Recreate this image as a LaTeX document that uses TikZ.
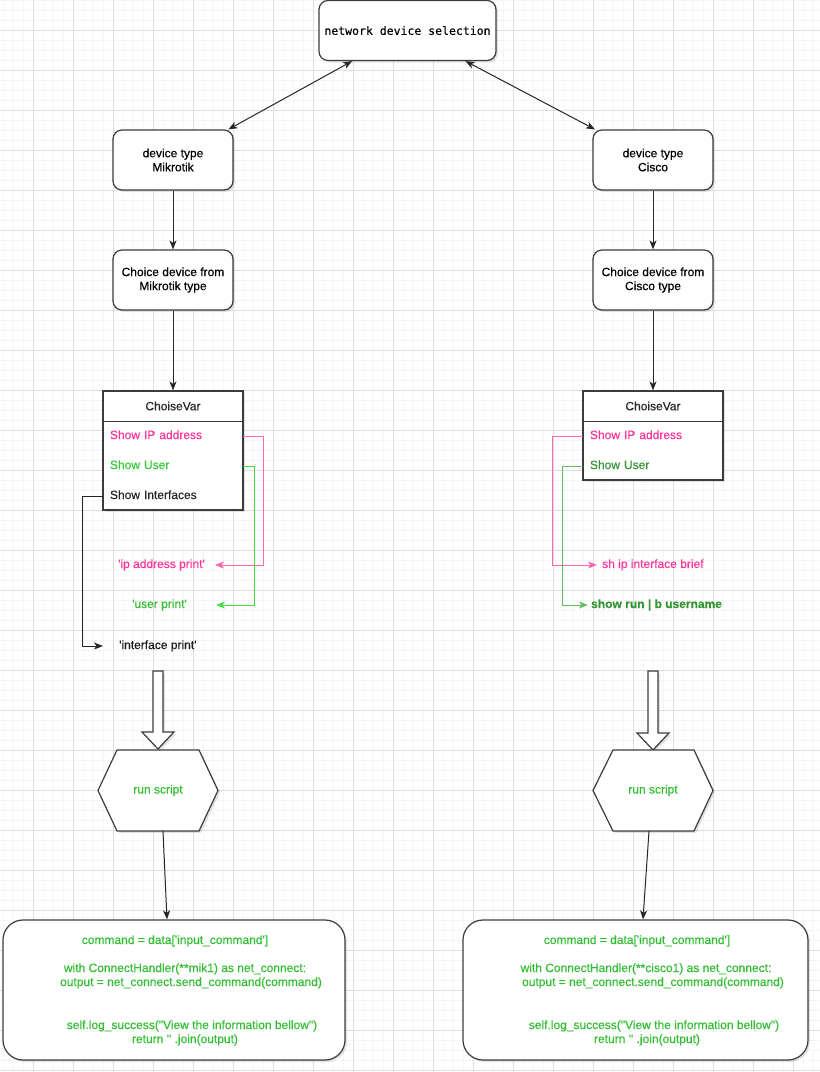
\documentclass[tikz,border=0pt]{standalone}
\usepackage{fontspec}
\setmainfont{Liberation Sans}[Ligatures=TeXOff, FakeBold=0.35]
\newfontfamily\monof{DejaVu Sans Mono}[FakeBold=0.3]
\usetikzlibrary{shadows,arrows.meta}
\newcommand\dfont{\fontsize{12}{14}\selectfont}
\definecolor{pk}{RGB}{255,51,153}
\definecolor{pkl}{RGB}{255,102,178}
\definecolor{gL}{RGB}{51,204,51}
\definecolor{glL}{RGB}{70,222,70}
\definecolor{gT}{RGB}{50,190,50}
\definecolor{gD}{RGB}{51,150,51}
\definecolor{glR}{RGB}{100,190,100}
\definecolor{strk}{RGB}{60,60,60}
\begin{document}
\begin{tikzpicture}[x=1pt,y=-1pt,
  shd/.style={drop shadow={opacity=0.22,shadow xshift=2pt,shadow yshift=-2pt}},
  box/.style={draw=strk, line width=1.2pt, fill=white, rounded corners=9pt,
    minimum width=120pt, minimum height=60pt, align=center, font=\dfont, shd},
  cvbox/.style={draw=strk, line width=1.2pt, fill=white, minimum width=140pt, shd},
  cvhead/.style={minimum width=140pt, minimum height=30pt, inner sep=0pt, font=\dfont, text=black!85},
  row/.style={text width=126pt, inner xsep=7pt, inner ysep=0pt, minimum height=30pt,
    align=left, font=\dfont, text height=8.6pt, text depth=2.6pt},
  txt/.style={inner ysep=0pt, font=\dfont, text height=8.6pt, text depth=2.6pt},
  code/.style={txt, inner xsep=0pt, text=gT},
  con/.style={draw=black!85, line width=1pt},
  arr/.style={-{Stealth[length=9pt,width=7pt,inset=2.5pt]}},
  darr/.style={{Stealth[length=9pt,width=7pt,inset=2.5pt]}-{Stealth[length=9pt,width=7pt,inset=2.5pt]}},
  shapeline/.style={draw=strk, line width=1.2pt, fill=white, shd},
  bigbox/.style={draw=strk, line width=1.2pt, fill=white, rounded corners=20pt, minimum height=140pt, shd}
]
\useasboundingbox (0,0) rectangle (820,1072);
\fill[white] (0,0) rectangle (820,1072);
% grid
\foreach \x in {3,13,...,813} \draw[black!4, line width=0.8pt] (\x,0) -- (\x,1072);
\foreach \y in {0,10,...,1070} \draw[black!4, line width=0.8pt] (0,\y) -- (820,\y);
\foreach \x in {33,73,...,793} \draw[black!13, line width=0.8pt] (\x,0) -- (\x,1072);
\foreach \y in {30,70,...,1070} \draw[black!13, line width=0.8pt] (0,\y) -- (820,\y);

% top node
\node[box, minimum width=177pt, font=\monof\fontsize{11.5}{14}\selectfont] (net) at (407.5,30.5) {network device selection};

% device type boxes
\node[box] (mik) at (173,160) {device type\\Mikrotik};
\node[box] (cis) at (653,160) {device type\\Cisco};
\node[box] (chm) at (173,280) {Choice device from\\Mikrotik type};
\node[box] (chc) at (653,280) {Choice device from\\Cisco type};

% ChoiseVar left
\node[cvbox, minimum height=119pt] (cvL) at (173,450.5) {};
\node[cvhead] (cvLh) at (173,406) {ChoiseVar};
\draw[strk, line width=1.2pt] (cvLh.south west) -- (cvLh.south east);
\node[row, text=pk] (lip) at (173,436) {Show IP address};
\node[row, text=gL] (lus) at (173,466) {Show User};
\node[row, text=black!85] (lin) at (173,496) {Show Interfaces};

% ChoiseVar right
\node[cvbox, minimum height=89pt] (cvR) at (653,435.5) {};
\node[cvhead] (cvRh) at (653,406) {ChoiseVar};
\draw[strk, line width=1.2pt] (cvRh.south west) -- (cvRh.south east);
\node[row, text=pk] (rip) at (653,436) {Show IP address};
\node[row, text=gD] (rus) at (653,466) {Show User};

% print labels
\node[txt, text=pk, anchor=east, inner xsep=10pt] (ipp) at (215,565) {'ip address print'};
\node[txt, text=gT, anchor=east, inner xsep=29pt] (upr) at (216,605) {'user print'};
\node[txt, text=black!90, anchor=west, inner xsep=16pt] (ipr) at (103,646) {'interface print'};
\node[txt, text=pk, anchor=west, inner xsep=5pt] (shp) at (597,565) {sh ip interface brief};
\node[txt, text=gD, anchor=west, inner xsep=3pt, font=\dfont\bfseries] (srp) at (588,605) {show run | b username};

% connectors
\draw[con, darr] (net) -- (mik);
\draw[con, darr] (net) -- (cis);
\draw[con, arr] (mik) -- (chm);
\draw[con, arr] (cis) -- (chc);
\draw[con, arr] (chm) -- (cvL);
\draw[con, arr] (chc) -- (cvR);
\draw[draw=pkl, line width=1pt, arr] (lip.east) -- ++(20,0) |- (ipp.east);
\draw[draw=glL, line width=1pt, arr] (lus.east) -- ++(11,0) |- (upr.east);
\draw[con, arr] (lin.west) -- ++(-20,0) |- (ipr.west);
\draw[draw=pkl, line width=1pt, arr] (rip.west) -- ++(-30,0) |- (shp.west);
\draw[draw=glR, line width=1pt, arr] (rus.west) -- ++(-20,0) |- (srp.west);

% block arrows
\draw[shapeline] (153,671) -- (163,671) -- (163,732) -- (174,732) -- (158,749) -- (142,732) -- (153,732) -- cycle;
\draw[shapeline] (648,671) -- (658,671) -- (658,733) -- (669,733) -- (653,750) -- (637,733) -- (648,733) -- cycle;

% hexagons
\draw[shapeline] (98,790.5) -- (117,750) -- (199,750) -- (218,790.5) -- (199,831) -- (117,831) -- cycle;
\node[txt, text=gT, minimum width=120pt, minimum height=81pt] (hexL) at (158,790.5) {run script};
\draw[shapeline] (593,790.5) -- (613,750) -- (694,750) -- (713,790.5) -- (694,831) -- (613,831) -- cycle;
\node[txt, text=gT, minimum width=120pt, minimum height=81pt] (hexR) at (653,790.5) {run script};

% big boxes
\node[bigbox, minimum width=342pt] (boxL) at (174,990) {};
\node[bigbox, minimum width=345pt] (boxR) at (635.5,990) {};
\draw[con, arr] ([xshift=5pt]hexL.south) -- ([xshift=-7pt]boxL.north);
\draw[con, arr] ([xshift=-4pt]hexR.south) -- ([xshift=7.5pt]boxR.north);

% code text left
\node[code] (l1) at (175,941) {command = data['input\_command']};
\node[code] (l2) at (185,969) {with ConnectHandler(**mik1) as net\_connect:};
\node[code] (l3) at (191,983) {output = net\_connect.send\_command(command)};
\node[code] (l4) at (192,1026) {self.log\_success("View the information bellow")};
\node[code] (l5) at (185,1040) {return '' .join(output)};
% code text right
\node[code] (r1) at (637,941) {command = data['input\_command']};
\node[code] (r2) at (646,969) {with ConnectHandler(**cisco1) as net\_connect:};
\node[code] (r3) at (653,983) {output = net\_connect.send\_command(command)};
\node[code] (r4) at (654,1026) {self.log\_success("View the information bellow")};
\node[code] (r5) at (647,1040) {return '' .join(output)};
\end{tikzpicture}
\end{document}
